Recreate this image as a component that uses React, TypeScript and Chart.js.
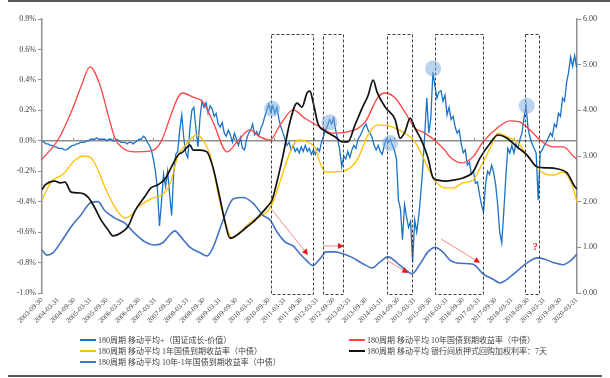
import { useEffect, useRef } from 'react';
import { Chart, registerables } from 'chart.js';

Chart.register(...registerables);

// ---------- axis labels ----------
const xTickLabels = [
  '2003-09-30', '2004-03-31', '2004-09-30', '2005-03-31', '2005-09-30', '2006-03-31',
  '2006-09-30', '2007-03-31', '2007-09-30', '2008-03-31', '2008-09-30', '2009-03-31',
  '2009-09-30', '2010-03-31', '2010-09-30', '2011-03-31', '2011-09-30', '2012-03-31',
  '2012-09-30', '2013-03-31', '2013-09-30', '2014-03-31', '2014-09-30', '2015-03-31',
  '2015-09-30', '2016-03-31', '2016-09-30', '2017-03-31', '2017-09-30', '2018-03-31',
  '2018-09-30', '2019-03-31', '2019-09-30', '2020-03-31',
];
const X_START = 2003.75; // 2003-09-30 as decimal year
const X_END = 2020.26;
const X_TICK_STEP = 0.5;

// ---------- series ----------
// 180-period MA of (国证成长 - 价值), left axis (%), sampled every 1/16 year from X_START
const growthValueStep = 1 / 16;
const growthValue = [
  0.00, -0.01, -0.02, -0.02, -0.03, -0.03, -0.04, -0.04, -0.05, -0.05,
  -0.05, -0.06, -0.06, -0.05, -0.04, -0.03, -0.03, -0.02, -0.02, -0.01,
  -0.01, -0.01, 0.00, 0.00, 0.01, 0.01, 0.01, 0.02, 0.01, 0.01,
  0.01, 0.01, 0.00, 0.01, 0.01, 0.00, 0.00, 0.01, 0.00, -0.01,
  -0.01, -0.01, -0.02, -0.01, -0.01, -0.02, -0.01, 0.00, 0.01, 0.01,
  0.03, 0.02, -0.01, -0.03, -0.06, -0.12, -0.20, -0.32, -0.56, -0.40,
  -0.22, -0.30, -0.20, -0.35, -0.49, -0.22, -0.09, -0.07, 0.07, 0.17,
  0.02, -0.08, -0.11, 0.08, 0.20, 0.22, 0.08, -0.04, 0.15, 0.26,
  0.22, 0.25, 0.18, 0.23, 0.21, 0.16, 0.18, 0.11, 0.09, 0.12,
  0.05, 0.03, 0.07, 0.04, -0.01, 0.05, 0.01, -0.03, 0.02, -0.05,
  -0.06, 0.01, 0.05, 0.07, 0.11, 0.04, 0.06, 0.03, 0.08, 0.11,
  0.16, 0.20, 0.24, 0.19, 0.23, 0.18, 0.22, 0.14, 0.09, 0.05,
  0.01, -0.03, -0.01, -0.06, -0.03, -0.07, -0.05, -0.08, -0.04, -0.07,
  -0.03, -0.07, -0.05, -0.09, -0.06, -0.09, -0.05, -0.07, -0.01, 0.03,
  0.07, 0.10, 0.14, 0.11, 0.15, 0.07, 0.01, -0.06, -0.17, -0.10,
  -0.12, -0.07, -0.11, -0.06, -0.03, -0.05, 0.01, 0.03, 0.06, 0.09,
  0.11, 0.07, 0.05, 0.02, -0.03, -0.06, -0.03, -0.07, -0.09, -0.03,
  0.01, -0.01, 0.01, -0.03, -0.06, -0.12, -0.39, -0.45, -0.65, -0.42,
  -0.50, -0.57, -0.53, -0.80, -0.52, -0.60, -0.50, -0.35, -0.18, 0.05,
  0.28, 0.05, 0.15, 0.45, 0.36, 0.28, 0.32, 0.33, 0.26, 0.30,
  0.17, 0.22, 0.14, 0.16, 0.09, 0.05, 0.07, -0.02, -0.08, -0.06,
  -0.16, -0.14, -0.22, -0.20, -0.28, -0.27, -0.35, -0.42, -0.47, -0.29,
  -0.20, -0.22, -0.16, -0.21, -0.29, -0.42, -0.60, -0.67, -0.47, -0.24,
  -0.05, -0.08, -0.03, -0.08, -0.02, -0.05, 0.01, 0.05, 0.15, 0.23,
  0.08, 0.02, -0.02, -0.05, -0.08, -0.39, -0.08, -0.06, -0.03, -0.01,
  0.02, 0.05, 0.03, 0.11, 0.09, 0.18, 0.16, 0.28, 0.26, 0.38,
  0.45, 0.55, 0.49, 0.56, 0.48,
];

// [decimal year, value] — right axis
const yield10Y: [number, number][] = [
  [2003.75, 2.93], [2004.24, 3.35], [2004.65, 3.96], [2004.95, 4.51], [2005.23, 4.95],
  [2005.54, 4.55], [2005.79, 3.90], [2006.00, 3.39], [2006.25, 3.17], [2006.62, 3.09],
  [2007.11, 3.11], [2007.42, 3.31], [2007.73, 3.90], [2007.95, 4.29], [2008.10, 4.38],
  [2008.41, 4.29], [2008.72, 4.18], [2009.03, 3.74], [2009.46, 3.09], [2009.77, 3.31],
  [2010.17, 3.57], [2010.48, 3.42], [2010.79, 3.35], [2011.10, 3.68], [2011.50, 4.01],
  [2011.87, 3.82], [2012.39, 3.61], [2012.70, 3.50], [2013.19, 3.53], [2013.72, 3.74],
  [2014.12, 4.29], [2014.34, 4.38], [2014.65, 4.27], [2014.95, 3.96], [2015.26, 3.61],
  [2015.57, 3.50], [2015.97, 3.28], [2016.19, 3.12], [2016.34, 2.98], [2016.71, 2.85],
  [2017.05, 2.98], [2017.36, 3.31], [2017.79, 3.61], [2018.19, 3.77], [2018.50, 3.74],
  [2018.81, 3.57], [2019.12, 3.35], [2019.52, 3.20], [2019.83, 3.20], [2020.20, 2.96],
  [2020.26, 2.93],
];

const yield1Y: [number, number][] = [
  [2003.75, 2.04], [2004.03, 2.43], [2004.40, 2.60], [2004.77, 2.91], [2005.05, 3.00],
  [2005.26, 2.96], [2005.48, 2.69], [2005.69, 2.32], [2006.00, 1.88], [2006.31, 1.64],
  [2006.50, 1.70], [2006.71, 1.88], [2007.11, 2.06], [2007.55, 2.21], [2007.73, 2.45],
  [2007.95, 3.02], [2008.10, 3.17], [2008.53, 3.46], [2008.72, 3.35], [2008.94, 3.02],
  [2009.24, 1.99], [2009.46, 1.42], [2009.61, 1.20], [2009.86, 1.34], [2010.26, 1.60],
  [2010.69, 1.77], [2010.88, 1.99], [2011.10, 2.45], [2011.31, 2.90], [2011.50, 3.24],
  [2011.71, 3.35], [2012.02, 3.28], [2012.18, 3.18], [2012.33, 2.85], [2012.50, 2.65],
  [2013.04, 2.67], [2013.47, 2.91], [2013.81, 3.46], [2014.09, 3.68], [2014.55, 3.64],
  [2014.95, 3.50], [2015.26, 3.31], [2015.48, 3.02], [2015.66, 2.74], [2015.94, 2.41],
  [2016.19, 2.30], [2016.44, 2.30], [2016.74, 2.41], [2017.05, 2.47], [2017.27, 2.74],
  [2017.58, 3.17], [2017.82, 3.50], [2018.10, 3.42], [2018.41, 3.31], [2018.72, 3.02],
  [2019.03, 2.74], [2019.21, 2.63], [2019.52, 2.58], [2019.83, 2.65], [2020.05, 2.47],
  [2020.20, 2.15], [2020.26, 1.98],
];

const repo7D: [number, number][] = [
  [2003.75, 2.26], [2003.84, 2.36], [2004.15, 2.45], [2004.31, 2.41], [2004.46, 2.43],
  [2004.65, 2.21], [2004.95, 2.19], [2005.17, 2.10], [2005.39, 1.85], [2005.57, 1.60],
  [2005.79, 1.38], [2005.94, 1.25], [2006.19, 1.32], [2006.40, 1.45], [2006.62, 1.80],
  [2006.93, 2.12], [2007.11, 2.30], [2007.33, 2.37], [2007.55, 2.50], [2007.73, 2.74],
  [2007.95, 3.02], [2008.10, 3.09], [2008.32, 3.24], [2008.41, 3.13], [2008.63, 3.13],
  [2008.84, 3.09], [2009.03, 2.74], [2009.24, 2.08], [2009.40, 1.55], [2009.55, 1.20],
  [2009.77, 1.27], [2010.08, 1.45], [2010.26, 1.55], [2010.48, 1.71], [2010.69, 1.88],
  [2010.85, 2.04], [2011.00, 2.43], [2011.19, 3.02], [2011.40, 3.74], [2011.62, 4.16],
  [2011.77, 4.07], [2011.93, 4.38], [2012.02, 4.42], [2012.11, 4.20], [2012.27, 3.70],
  [2012.48, 3.55], [2012.79, 3.42], [2013.01, 3.31], [2013.19, 3.31], [2013.41, 3.68],
  [2013.63, 4.05], [2013.81, 4.32], [2013.97, 4.66], [2014.09, 4.40], [2014.34, 4.07],
  [2014.65, 3.79], [2014.80, 3.39], [2014.95, 3.53], [2015.11, 3.83], [2015.26, 3.61],
  [2015.48, 3.31], [2015.66, 2.96], [2015.82, 2.52], [2015.97, 2.47], [2016.19, 2.45],
  [2016.44, 2.47], [2016.74, 2.52], [2017.05, 2.65], [2017.27, 2.96], [2017.58, 3.28],
  [2017.82, 3.46], [2018.10, 3.39], [2018.41, 3.20], [2018.72, 3.02], [2019.03, 2.76],
  [2019.34, 2.74], [2019.64, 2.72], [2019.95, 2.63], [2020.20, 2.32], [2020.26, 2.28],
];

const spread10Y1Y: [number, number][] = [
  [2003.75, 0.94], [2003.90, 0.83], [2004.09, 0.88], [2004.34, 1.12], [2004.65, 1.45],
  [2004.95, 1.71], [2005.26, 1.98], [2005.48, 2.00], [2005.69, 1.80], [2006.00, 1.64],
  [2006.31, 1.53], [2006.62, 1.30], [2006.93, 1.12], [2007.24, 1.05], [2007.48, 1.10],
  [2007.73, 1.30], [2007.85, 1.36], [2008.01, 1.25], [2008.32, 1.00], [2008.63, 0.88],
  [2008.84, 0.81], [2009.03, 1.00], [2009.34, 1.60], [2009.65, 2.06], [2009.95, 2.09],
  [2010.26, 1.97], [2010.57, 1.70], [2010.79, 1.60], [2011.00, 1.34], [2011.25, 1.12],
  [2011.50, 1.03], [2011.71, 0.86], [2011.90, 0.72], [2012.11, 0.60], [2012.33, 0.75],
  [2012.52, 0.90], [2012.79, 0.90], [2013.04, 0.86], [2013.32, 0.78], [2013.63, 0.65],
  [2013.94, 0.55], [2014.18, 0.68], [2014.43, 0.79], [2014.74, 0.64], [2014.95, 0.52],
  [2015.17, 0.42], [2015.42, 0.64], [2015.66, 0.90], [2015.88, 1.00], [2016.13, 0.89],
  [2016.34, 0.72], [2016.65, 0.65], [2017.05, 0.63], [2017.36, 0.42], [2017.67, 0.30],
  [2017.89, 0.22], [2018.10, 0.30], [2018.41, 0.48], [2018.72, 0.66], [2019.03, 0.77],
  [2019.27, 0.74], [2019.52, 0.67], [2019.83, 0.62], [2020.05, 0.70], [2020.26, 0.85],
];

const legendLabels = [
  '180周期 移动平均+（国证成长-价值）',
  '180周期 移动平均 10年国债到期收益率（中债）',
  '180周期 移动平均 1年国债到期收益率（中债）',
  '180周期 移动平均 银行间质押式回购加权利率：7天',
  '180周期 移动平均 10年-1年国债到期收益率（中债）',
];

// ---------- annotations (data units) ----------
const boxStarts = [2010.81, 2012.43, 2014.41, 2015.88, 2018.64];
const boxEnds = [2012.10, 2013.05, 2015.16, 2017.35, 2019.08];
const BOX_TOP = 0.70; // left axis %
const BOX_BOTTOM = -1.005;
const circleYears = [2010.85, 2012.62, 2014.49, 2015.82, 2018.71];
const circleValues = [0.21, 0.12, -0.015, 0.475, 0.23]; // left axis %
const arrowFrom: [number, number][] = [[2010.85, 1.82], [2012.42, 1.03], [2014.43, 0.70], [2016.07, 1.18]]; // right axis
const arrowTo: [number, number][] = [[2011.96, 0.83], [2013.07, 1.03], [2015.05, 0.44], [2017.27, 0.66]];
const questionMark: [number, number] = [2018.97, 0.99];
const zeroTickStart = 2004.72;
const zeroTickStep = 1.235;

const COLORS = {
  growth: '#1a73c8',
  y10: '#ff4343',
  y1: '#ffc000',
  repo: '#111111',
  spread: '#4472c4',
};

const SERIF = '"Liberation Serif", "Noto Sans CJK SC", serif';

const overlayPlugin = {
  id: 'overlay',
  beforeDatasetsDraw(chart: any) {
    const { ctx, chartArea, scales } = chart;
    const y0 = scales.y.getPixelForValue(0);
    ctx.save();
    ctx.strokeStyle = '#8f8f8f';
    ctx.lineWidth = 1.5;
    ctx.beginPath();
    ctx.moveTo(chartArea.left, y0);
    ctx.lineTo(chartArea.right, y0);
    ctx.stroke();
    ctx.lineWidth = 1;
    ctx.beginPath();
    for (let t = zeroTickStart; t < X_END; t += zeroTickStep) {
      const x = Math.round(scales.x.getPixelForValue(t)) + 0.5;
      ctx.moveTo(x, y0 - 3);
      ctx.lineTo(x, y0);
    }
    ctx.stroke();
    ctx.restore();
  },
  afterDatasetsDraw(chart: any) {
    const { ctx, scales } = chart;
    const sx = scales.x, sy = scales.y, sy1 = scales.y1;
    ctx.save();
    // dashed boxes
    ctx.strokeStyle = '#404040';
    ctx.lineWidth = 1;
    ctx.setLineDash([3, 2]);
    boxStarts.forEach((b, i) => {
      const x1 = Math.round(sx.getPixelForValue(b)) + 0.5;
      const x2 = Math.round(sx.getPixelForValue(boxEnds[i])) + 0.5;
      const yT = Math.round(sy.getPixelForValue(BOX_TOP)) + 0.5;
      const yB = Math.round(sy.getPixelForValue(BOX_BOTTOM)) + 0.5;
      ctx.strokeRect(x1, yT, x2 - x1, yB - yT);
    });
    ctx.setLineDash([]);
    // circles
    ctx.fillStyle = 'rgba(120, 170, 222, 0.5)';
    circleYears.forEach((t, i) => {
      ctx.beginPath();
      ctx.arc(sx.getPixelForValue(t), sy.getPixelForValue(circleValues[i]), 8, 0, Math.PI * 2);
      ctx.fill();
    });
    // arrows
    arrowFrom.forEach((f, i) => {
      const x1 = sx.getPixelForValue(f[0]);
      const y1 = sy1.getPixelForValue(f[1]);
      const x2 = sx.getPixelForValue(arrowTo[i][0]);
      const y2 = sy1.getPixelForValue(arrowTo[i][1]);
      const ang = Math.atan2(y2 - y1, x2 - x1);
      const hl = 6, hw = 3;
      ctx.strokeStyle = '#f28b8b';
      ctx.lineWidth = 1;
      ctx.beginPath();
      ctx.moveTo(x1, y1);
      ctx.lineTo(x2 - hl * Math.cos(ang), y2 - hl * Math.sin(ang));
      ctx.stroke();
      ctx.fillStyle = '#e31b1b';
      ctx.beginPath();
      ctx.moveTo(x2, y2);
      ctx.lineTo(x2 - hl * Math.cos(ang) + hw * Math.sin(ang), y2 - hl * Math.sin(ang) - hw * Math.cos(ang));
      ctx.lineTo(x2 - hl * Math.cos(ang) - hw * Math.sin(ang), y2 - hl * Math.sin(ang) + hw * Math.cos(ang));
      ctx.closePath();
      ctx.fill();
    });
    // question mark
    ctx.fillStyle = '#e31b1b';
    ctx.font = 'bold 10px ' + SERIF;
    ctx.textAlign = 'center';
    ctx.textBaseline = 'middle';
    ctx.fillText('?', sx.getPixelForValue(questionMark[0]), sy1.getPixelForValue(questionMark[1]));
    ctx.restore();
  },
  afterDraw(chart: any) {
    const { ctx } = chart;
    ctx.save();
    // frame lines of the picture
    ctx.fillStyle = '#5a5a5a';
    ctx.fillRect(8, 0, 602, 2);
    ctx.fillRect(8, 375, 594, 2);
    // legend
    const colors = [COLORS.growth, COLORS.y10, COLORS.y1, COLORS.repo, COLORS.spread];
    const colX = [80, 349];
    const rowY = [340, 351, 362];
    ctx.font = '8px ' + SERIF;
    ctx.textBaseline = 'middle';
    ctx.textAlign = 'left';
    legendLabels.forEach((label, i) => {
      const col = i % 2;
      const row = Math.floor(i / 2);
      const x = colX[col];
      const y = rowY[row];
      ctx.strokeStyle = colors[i];
      ctx.lineWidth = 2;
      ctx.beginPath();
      ctx.moveTo(x, y);
      ctx.lineTo(x + 16, y);
      ctx.stroke();
      ctx.fillStyle = '#404040';
      ctx.fillText(label, x + 18, y + 0.5);
    });
    ctx.restore();
  },
};

export default function App() {
  const ref = useRef<HTMLCanvasElement | null>(null);
  useEffect(() => {
    if (!ref.current) return;
    const tickFont = { family: SERIF, size: 8 };
    const line = (data: [number, number][]) => data.map(([x, y]) => ({ x, y }));
    const chart = new Chart(ref.current, {
      type: 'line',
      data: {
        datasets: [
          {
            label: legendLabels[0],
            data: growthValue.map((v, k) => ({ x: X_START + k * growthValueStep, y: v })),
            yAxisID: 'y',
            borderColor: COLORS.growth,
            borderWidth: 1.3,
            pointRadius: 0,
            tension: 0,
            order: 5,
          },
          {
            label: legendLabels[1],
            data: line(yield10Y),
            yAxisID: 'y1',
            borderColor: COLORS.y10,
            borderWidth: 1.3,
            pointRadius: 0,
            cubicInterpolationMode: 'monotone',
            order: 4,
          },
          {
            label: legendLabels[2],
            data: line(yield1Y),
            yAxisID: 'y1',
            borderColor: COLORS.y1,
            borderWidth: 1.3,
            pointRadius: 0,
            cubicInterpolationMode: 'monotone',
            order: 3,
          },
          {
            label: legendLabels[4],
            data: line(spread10Y1Y),
            yAxisID: 'y1',
            borderColor: COLORS.spread,
            borderWidth: 1.6,
            pointRadius: 0,
            cubicInterpolationMode: 'monotone',
            order: 2,
          },
          {
            label: legendLabels[3],
            data: line(repo7D),
            yAxisID: 'y1',
            borderColor: COLORS.repo,
            borderWidth: 1.7,
            pointRadius: 0,
            cubicInterpolationMode: 'monotone',
            order: 1,
          },
        ],
      },
      options: {
        responsive: false,
        animation: false,
        events: [],
        layout: { padding: { top: 19, left: 0, right: 0, bottom: 0 } },
        plugins: { legend: { display: false }, tooltip: { enabled: false } },
        scales: {
          x: {
            type: 'linear',
            min: X_START,
            max: X_END,
            afterBuildTicks: (s: any) => {
              s.ticks = xTickLabels.map((_, i) => ({ value: X_START + i * X_TICK_STEP }));
            },
            afterFit: (s: any) => {
              s.height = 85;
            },
            ticks: {
              autoSkip: false,
              minRotation: 45,
              maxRotation: 45,
              padding: 3,
              color: '#404040',
              font: { family: SERIF, size: 7 },
              callback: (_v: any, i: number) => xTickLabels[i],
            },
            grid: { display: false, drawTicks: false },
            border: { display: false },
          },
          y: {
            position: 'left',
            min: -1,
            max: 0.8,
            afterFit: (s: any) => {
              s.width = 42;
            },
            ticks: {
              stepSize: 0.2,
              padding: 2,
              color: '#404040',
              font: tickFont,
              callback: (v: any) => Number(v).toFixed(1) + '%',
            },
            grid: { drawOnChartArea: false, drawTicks: true, tickLength: 4, color: '#8f8f8f', lineWidth: 1 },
            border: { display: true, color: '#8f8f8f', width: 1.5 },
          },
          y1: {
            position: 'right',
            min: 0,
            max: 6,
            afterFit: (s: any) => {
              s.width = 33;
            },
            ticks: {
              stepSize: 1,
              padding: 2,
              color: '#404040',
              font: tickFont,
              callback: (v: any) => Number(v).toFixed(2),
            },
            grid: { drawOnChartArea: false, drawTicks: true, tickLength: 4, color: '#8f8f8f', lineWidth: 1 },
            border: { display: true, color: '#8f8f8f', width: 1.5 },
          },
        },
      },
      plugins: [overlayPlugin],
    } as any);
    return () => chart.destroy();
  }, []);
  return (
    <div style={{ position: 'fixed', left: 0, top: 0, width: 610, height: 378, background: '#fff' }}>
      <canvas ref={ref} width={610} height={378} style={{ width: 610, height: 378, display: 'block' }} />
    </div>
  );
}
